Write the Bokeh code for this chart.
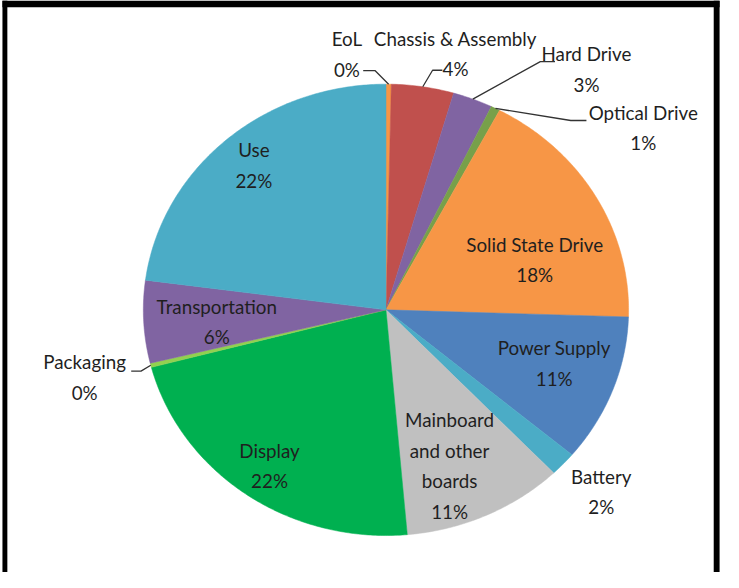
import numpy as np
from bokeh.plotting import figure
from bokeh.models import Range1d, ColumnDataSource
from bokeh.core.properties import value
from bokeh.embed import file_html
from bokeh.resources import INLINE

# ---- data ----
categories = ["EoL", "Chassis & Assembly", "Hard Drive", "Optical Drive",
              "Solid State Drive", "Power Supply", "Battery",
              "Mainboard\nand other\nboards", "Display", "Packaging",
              "Transportation", "Use"]
shares = [0.35, 4.15, 2.65, 0.6, 17.75, 10.6, 1.75, 10.75, 22.3, 0.3, 5.9, 22.9]
pct_labels = ["0%", "4%", "3%", "1%", "18%", "11%", "2%", "11%", "22%", "0%", "6%", "22%"]
colors = ["#F79646", "#C0504D", "#8064A2", "#77A04A", "#F79646", "#4F81BD",
          "#4BACC6", "#C0C0C0", "#00B050", "#92D050", "#8064A2", "#4BACC6"]

# ---- layout / style (offsets of label blocks from slice-edge midpoints) ----
label_off = [(-42.7, -31), (33.4, -34.2), (116.2, -30.9), (151.1, 19.5),
             (-62.4, 65), (-59.7, -28.2), (39, 28), (-37.4, -51.3),
             (23.6, -29.8), (-67.6, 12), (74.7, -0.4), (28.4, 25.5)]
# leader lines: (elbow, end) offsets from slice edge midpoint, None = no leader
leaders = [((-14, -14), (-26, -14)), ((10, -17), (20, -17)),
           ((69, -38.5), (84, -38.5)), ((77, 12.4), (93, 12.4)),
           None, None, None, None, None,
           ((-10, 6), (-20, 6)), None, None]

W, H = 723, 572
RW, RH = 739, 588  # reference canvas units
p = figure(width=W, height=H, output_backend="svg", toolbar_location=None,
           x_range=Range1d(0, RW), y_range=Range1d(0, RH),
           x_axis_location=None, y_axis_location=None, min_border=0)
p.grid.visible = False
p.outline_line_color = None
p.background_fill_color = "white"
p.border_fill_color = "white"

# pie geometry (canvas units, y data = RH - screen y)
cx, cy = 394.0, RH - 318.0
rx, ry = 248.0, 232.0

vals = np.array(shares, dtype=float)
frac = vals / vals.sum()
ends = np.cumsum(frac) * 2 * np.pi
starts = ends - frac * 2 * np.pi

xs, ys = [], []
for a0, a1 in zip(starts, ends):
    n = max(4, int((a1 - a0) / 0.01))
    t = np.linspace(a0, a1, n)
    xs.append([cx] + list(cx + rx * np.sin(t)) + [cx])
    ys.append([cy] + list(cy + ry * np.cos(t)) + [cy])

p.patches(xs, ys, fill_color=colors, line_color=colors, line_width=0.5)

mids = (starts + ends) / 2
ex = cx + rx * np.sin(mids)
ey = cy + ry * np.cos(mids)

# leader lines
for i, ld in enumerate(leaders):
    if ld is None:
        continue
    (e1x, e1y), (e2x, e2y) = ld
    p.line([ex[i], ex[i] + e1x, ex[i] + e2x],
           [ey[i], ey[i] - e1y, ey[i] - e2y],
           line_color="#333333", line_width=1.3)

texts = [c + "\n" + v for c, v in zip(categories, pct_labels)]
lx = [ex[i] + label_off[i][0] for i in range(len(texts))]
ly = [ey[i] - label_off[i][1] for i in range(len(texts))]
src = ColumnDataSource(dict(x=lx, y=ly, text=texts))
p.text(x="x", y="y", text="text", source=src, text_font=value("Lato"),
       text_font_size="18.8px", text_align="center", text_baseline="middle",
       text_color="#1f1f1f", text_line_height=1.32)

# black frame (left, top, right)
p.quad(left=[2, 2, 729], right=[7, 735, 735],
       bottom=[0, RH - 7, 0], top=[RH, RH, RH],
       fill_color="black", line_color=None)

open("out.html", "w").write(file_html(p, INLINE))
